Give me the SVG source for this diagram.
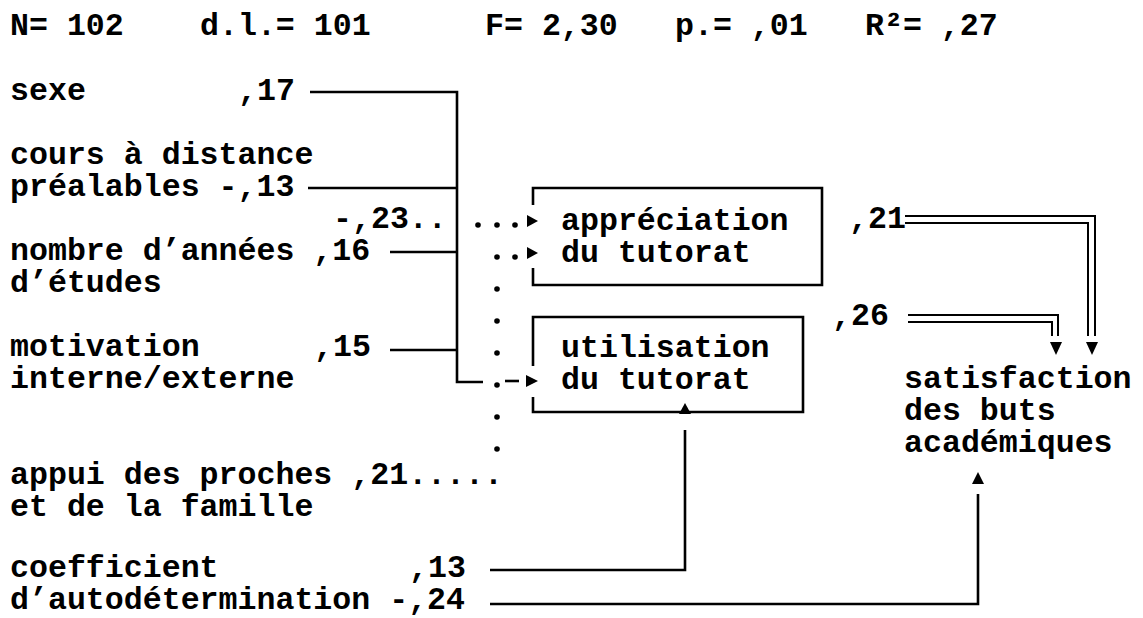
<svg xmlns="http://www.w3.org/2000/svg" width="1143" height="618" viewBox="0 0 1143 618">
<style>
text{font-family:"Liberation Mono","Courier New",monospace;font-size:31.6px;font-weight:bold;fill:#000;white-space:pre}
.ln{fill:none;stroke:#000;stroke-width:2.6}
.dbl{fill:none;stroke:#000;stroke-width:2}
.box{fill:none;stroke:#000;stroke-width:2.6}
.ah{fill:#000;stroke:none}
.dot{fill:#000}
</style>
<rect width="1143" height="618" fill="#fff"/>
<g id="header">
<text x="10" y="35">N= 102</text>
<text x="200" y="35">d.l.= 101</text>
<text x="485" y="35">F= 2,30</text>
<text x="675" y="35">p.= ,01</text>
<text x="865" y="35">R²= ,27</text>
</g>
<g id="node-sexe"><text x="10" y="100">sexe</text><text x="238" y="100">,17</text></g>
<g id="node-cours"><text x="10" y="164">cours à distance</text><text x="10" y="196">préalables -,13</text></g>
<g id="label-23"><text x="333" y="228">-,23..</text></g>
<g id="node-nombre"><text x="10" y="260">nombre d’années ,16</text><text x="10" y="292">d’études</text></g>
<g id="node-motivation"><text x="10" y="356">motivation</text><text x="314" y="356">,15</text><text x="10" y="388">interne/externe</text></g>
<g id="node-appui"><text x="10" y="484">appui des proches ,21.....</text><text x="10" y="516">et de la famille</text></g>
<g id="node-coefficient"><text x="10" y="577">coefficient</text><text x="409" y="577">,13</text><text x="10" y="609">d’autodétermination -,24</text></g>
<g id="node-appreciation">
<path class="box" d="M533,205 V188 H822 V285 H533 V268"/>
<text x="561" y="230">appréciation</text><text x="561" y="262">du tutorat</text>
</g>
<g id="node-utilisation">
<path class="box" d="M533,366 V317 H803 V412 H533 V397"/>
<text x="561" y="357">utilisation</text><text x="561" y="389">du tutorat</text>
</g>
<g id="node-satisfaction">
<text x="904" y="388">satisfaction</text><text x="904" y="420">des buts</text><text x="904" y="452">académiques</text>
</g>
<g id="connectors">
<path class="ln" d="M310,92 H457 V382 H483"/>
<path class="ln" d="M308,188 H457"/>
<path class="ln" d="M390,252 H457"/>
<path class="ln" d="M390,350 H457"/>
<path class="ln" d="M505,381 H519"/>
<polygon class="ah" points="526,375 526,387 538,381"/>
<circle class="dot" cx="478" cy="225" r="2.8"/>
<circle class="dot" cx="497" cy="225" r="2.8"/>
<circle class="dot" cx="515" cy="225" r="2.8"/>
<polygon class="ah" points="527,215 527,227 538,221"/>
<circle class="dot" cx="497" cy="257" r="2.8"/>
<circle class="dot" cx="515" cy="257" r="2.8"/>
<polygon class="ah" points="527,247 527,259 538,253"/>
<circle class="dot" cx="497" cy="289" r="2.8"/>
<circle class="dot" cx="497" cy="321" r="2.8"/>
<circle class="dot" cx="497" cy="353" r="2.8"/>
<circle class="dot" cx="497" cy="385" r="2.8"/>
<circle class="dot" cx="497" cy="417" r="2.8"/>
<circle class="dot" cx="497" cy="449" r="2.8"/>
<path class="ln" d="M490,570 H685 V430"/>
<polygon class="ah" points="679,414 691,414 685,403"/>
<path class="ln" d="M490,604 H978 V494"/>
<polygon class="ah" points="972,484 984,484 978,472"/>
<text x="849" y="228">,21</text>
<path class="dbl" d="M905,216 H1095 V336"/>
<path class="dbl" d="M905,223 H1088 V336"/>
<polygon class="ah" points="1086,342 1098,342 1092,355"/>
<text x="832" y="325">,26</text>
<path class="dbl" d="M908,315 H1058 V336"/>
<path class="dbl" d="M908,322 H1052 V336"/>
<polygon class="ah" points="1050,342 1062,342 1056,355"/>
</g>
</svg>
